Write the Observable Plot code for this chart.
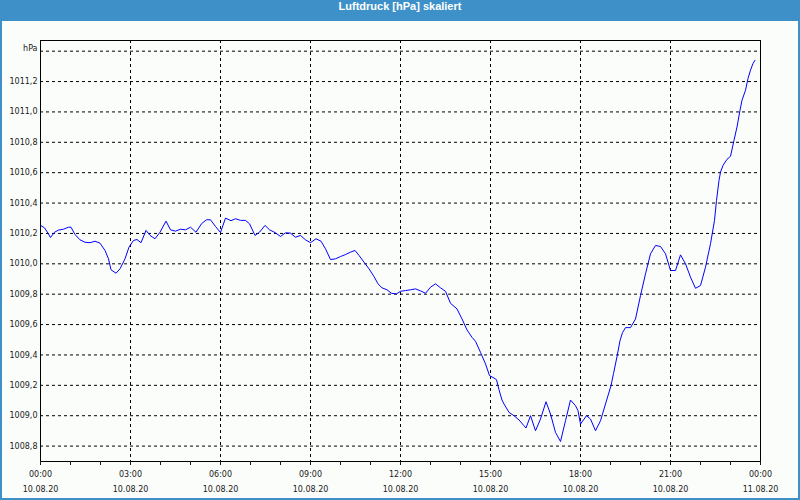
<!DOCTYPE html>
<html><head><meta charset="utf-8">
<script src="https://cdn.jsdelivr.net/npm/d3@7"></script>
<script src="https://cdn.jsdelivr.net/npm/@observablehq/plot@0.6"></script>
<style>
html,body{margin:0;padding:0;background:#fff;}
#wrap{width:800px;height:500px;box-sizing:border-box;border:2px solid #3e90c8;border-top:none;background:#fbfdfb;overflow:hidden;}
#title{height:21px;line-height:18px;background:#3e90c8;color:#fff;font:bold 11px "Liberation Sans",Arial,sans-serif;text-align:center;}
#chart svg{display:block;}
</style></head><body>
<div id="wrap"><div id="title">Luftdruck [hPa] skaliert</div><div id="chart"></div></div>
<script>
const title = "Luftdruck [hPa] skaliert";
const unitLabel = "hPa";
// minutes since 10.08.20 00:00
const minutes = [0,8,15,20,28,36,46,56,61,69,79,89,99,109,119,129,136,141,151,159,169,177,186,193,201,211,219,229,239,251,260,270,280,290,300,311,322,332,340,350,360,370,381,390,400,410,418,429,438,449,458,469,480,490,500,510,520,530,540,551,561,570,580,590,600,610,620,629,637,647,657,667,675,683,693,702,712,720,730,740,750,760,770,780,790,800,810,820,833,843,853,863,870,880,890,898,907,912,917,923,927,937,947,957,967,971,980,990,1000,1011,1020,1030,1040,1050,1060,1070,1075,1080,1092,1100,1110,1120,1130,1141,1146,1153,1159,1164,1170,1180,1190,1200,1210,1220,1230,1240,1250,1260,1270,1280,1290,1300,1310,1320,1330,1340,1348,1352,1357,1360,1365,1373,1380,1387,1393,1399,1403,1410,1415,1420,1425,1429];
const pressure = [1010.253,1010.237,1010.202,1010.173,1010.208,1010.222,1010.228,1010.241,1010.241,1010.193,1010.158,1010.142,1010.139,1010.149,1010.136,1010.088,1010.033,1009.961,1009.938,1009.967,1010.033,1010.110,1010.154,1010.160,1010.139,1010.220,1010.187,1010.165,1010.208,1010.281,1010.224,1010.215,1010.228,1010.224,1010.241,1010.208,1010.264,1010.290,1010.290,1010.246,1010.206,1010.301,1010.284,1010.297,1010.286,1010.286,1010.264,1010.187,1010.208,1010.253,1010.224,1010.206,1010.180,1010.204,1010.202,1010.175,1010.187,1010.158,1010.139,1010.165,1010.149,1010.099,1010.028,1010.033,1010.048,1010.061,1010.077,1010.088,1010.055,1010.011,1009.967,1009.916,1009.868,1009.842,1009.829,1009.806,1009.802,1009.819,1009.824,1009.829,1009.835,1009.822,1009.806,1009.846,1009.868,1009.842,1009.819,1009.740,1009.703,1009.637,1009.565,1009.516,1009.490,1009.417,1009.341,1009.264,1009.248,1009.237,1009.171,1009.103,1009.077,1009.022,1009.000,1008.972,1008.934,1008.919,1009.000,1008.901,1008.978,1009.092,1009.011,1008.890,1008.830,1008.967,1009.103,1009.066,1009.033,1008.945,1009.000,1008.978,1008.901,1008.967,1009.077,1009.198,1009.277,1009.389,1009.494,1009.547,1009.580,1009.580,1009.637,1009.791,1009.934,1010.066,1010.121,1010.114,1010.066,1009.956,1009.956,1010.059,1010.000,1009.912,1009.839,1009.857,1009.978,1010.132,1010.286,1010.417,1010.549,1010.604,1010.648,1010.688,1010.708,1010.813,1010.901,1011.011,1011.077,1011.143,1011.220,1011.275,1011.319,1011.340];
const yTicks = [1008.8,1009.0,1009.2,1009.4,1009.6,1009.8,1010.0,1010.2,1010.4,1010.6,1010.8,1011.0,1011.2];
const yGrid = [1008.8,1009.0,1009.2,1009.4,1009.6,1009.8,1010.0,1010.2,1010.4,1010.6,1010.8,1011.0,1011.2,1011.4];
const xHours = [0,1,2,3,4,5,6,7,8,9,10,11,12,13,14,15,16,17,18,19,20,21,22,23,24];
const xLabelHours = [0,3,6,9,12,15,18,21,24];
const xGridHours = [3,6,9,12,15,18,21];
const xTimeLabels = ["00:00","03:00","06:00","09:00","12:00","15:00","18:00","21:00","00:00"];
const xDateLabels = ["10.08.20","10.08.20","10.08.20","10.08.20","10.08.20","10.08.20","10.08.20","10.08.20","11.08.20"];

const data = minutes.map((m, i) => ({h: m / 60, p: pressure[i]}));
const fmtY = v => v.toFixed(1).replace(".", ",");
const fmtTime = h => h % 3 === 0 ? xTimeLabels[h / 3] : "";
const fmtDate = h => xDateLabels[h / 3];
const dash = {stroke: "#000", strokeOpacity: 1, strokeDasharray: "3,3"};

const chart = Plot.plot({
  width: 796, height: 477,
  marginLeft: 38, marginRight: 38, marginTop: 19, marginBottom: 37,
  style: {background: "transparent", color: "#1a1a1a", fontFamily: "'DejaVu Sans', sans-serif", fontSize: "8px"},
  x: {type: "linear", domain: [0, 24]},
  y: {domain: [1008.6985, 1011.4703]},
  marks: [
    Plot.gridY(yGrid, dash),
    Plot.gridX(xGridHours, dash),
    Plot.line(data, {x: "h", y: "p", stroke: "#0000ff", strokeWidth: 1}),
    Plot.frame({stroke: "#000"}),
    Plot.axisY(yTicks, {tickSize: 0, tickPadding: 3, tickFormat: fmtY, label: null}),
    Plot.axisX(xHours, {tickSize: 4, tickPadding: 5.5, tickFormat: fmtTime, label: null}),
    Plot.axisX(xLabelHours, {tickSize: 0, tickPadding: 25, tickFormat: fmtDate, label: null}),
    Plot.text([unitLabel], {frameAnchor: "top-left", textAnchor: "end", dx: -3, dy: 4.5, fill: "#1a1a1a"})
  ]
});
document.getElementById("chart").appendChild(chart);
</script>
</body></html>
